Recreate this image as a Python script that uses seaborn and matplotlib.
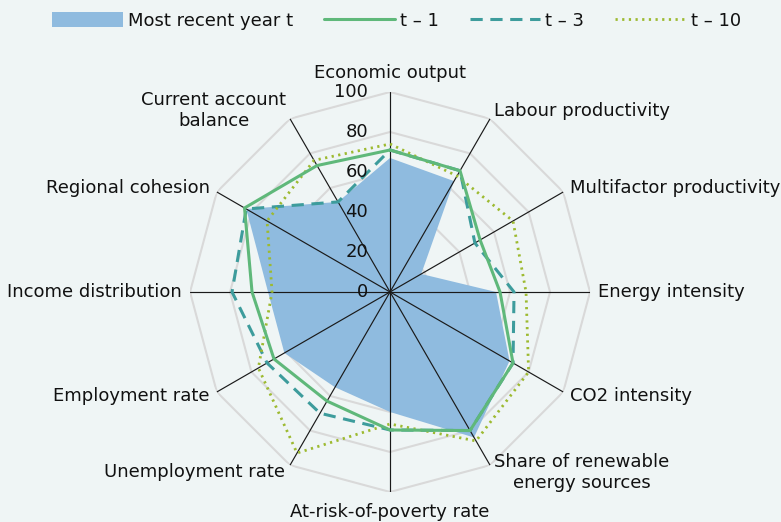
import numpy as np
import seaborn as sns
import matplotlib.pyplot as plt
from matplotlib.patches import Patch
from matplotlib.lines import Line2D

categories = ["Economic output", "Labour productivity", "Multifactor productivity",
              "Energy intensity", "CO2 intensity", "Share of renewable\nenergy sources",
              "At-risk-of-poverty rate", "Unemployment rate", "Employment rate",
              "Income distribution", "Regional cohesion", "Current account\nbalance"]
recent = [67, 64, 18, 53, 69, 84, 60, 55, 61, 61, 83, 52]
t_1 = [71, 70, 52, 55, 71, 80, 69, 63, 67, 69, 84, 73]
t_3 = [71, 70, 49, 62, 71, 80, 69, 70, 71, 79, 83, 52]
t_10 = [74, 67, 71, 68, 80, 86, 66, 93, 76, 59, 71, 76]
ring_levels = [20, 40, 60, 80, 100]
tick_labels = ["0", "20", "40", "60", "80", "100"]

bg = "#eff5f5"
c_fill = "#8fbbdf"
c_t1 = "#5fb87a"
c_t3 = "#3d9c9c"
c_t10 = "#9dba30"

sns.set_theme(style="white", rc={"figure.facecolor": bg, "savefig.facecolor": bg})
plt.rcParams['font.family'] = ['DejaVu Sans']
plt.rcParams['text.color'] = '#111111'

n = len(categories)
theta = np.linspace(0, 2 * np.pi, n, endpoint=False)
theta_c = np.append(theta, 2 * np.pi)


def close(v):
    return np.append(v, v[0])


fig = plt.figure(figsize=(7.81, 5.22), dpi=100)
ax = fig.add_axes([0.2433, 0.0575, 0.5122, 0.7663], projection='polar')
ax.set_theta_zero_location('N')
ax.set_theta_direction(-1)
ax.patch.set_alpha(0)
ax.spines['polar'].set_visible(False)
ax.grid(False)

# polygon rings
for lv in ring_levels:
    ax.plot(theta_c, [lv] * (n + 1), color="#d9d9d9", lw=1.5, zorder=1)

ax.fill(theta_c, close(recent), color=c_fill, lw=0, zorder=2)

# spokes
for t in theta:
    ax.plot([t, t], [0, 100], color="#1a1a1a", lw=0.85, zorder=3)

sns.lineplot(x=theta_c, y=close(t_1), sort=False, estimator=None, ax=ax,
             color=c_t1, lw=2.2, zorder=5)
sns.lineplot(x=theta_c, y=close(t_3), sort=False, estimator=None, ax=ax,
             color=c_t3, lw=2.2, zorder=4, linestyle=(0, (4, 2.5)))
sns.lineplot(x=theta_c, y=close(t_10), sort=False, estimator=None, ax=ax,
             color=c_t10, lw=2.0, zorder=4, linestyle=(0, (0.8, 1.6)))

ax.set_ylim(0, 100)
ax.set_xticks([])
ax.set_yticks([])
ax.set_xlabel("")
ax.set_ylabel("")

fs = 13
for i, lab in enumerate(tick_labels):
    ax.annotate(lab, xy=(0, i * 20), xytext=(-22, 0), textcoords='offset pixels',
                ha='right', va='center', fontsize=fs, zorder=6)

offsets = [(0, 19, 'center'), (4, 8, 'left'), (7, 4, 'left'), (8, 0, 'left'),
           (7, -4, 'left'), (4, -7, 'left'), (0, -20, 'center'), (-5, -7, 'right'),
           (-7, -4, 'right'), (-8, 0, 'right'), (-7, 4, 'right'), (-4, 8, 'right')]
for t, lab, (dx, dy, ha) in zip(theta, categories, offsets):
    ax.annotate(lab, xy=(t, 100), xytext=(dx, dy), textcoords='offset pixels',
                ha=ha, va='center', multialignment='center', fontsize=fs,
                annotation_clip=False)

handles = [Patch(facecolor=c_fill, edgecolor='none'),
           Line2D([], [], color=c_t1, lw=2.2),
           Line2D([], [], color=c_t3, lw=2.2, linestyle=(0, (4, 2.5))),
           Line2D([], [], color=c_t10, lw=2.0, linestyle=(0, (0.8, 1.6)))]
labels = ["Most recent year t", "t \u2013 1", "t \u2013 3", "t \u2013 10"]
fig.legend(handles, labels, loc='center', bbox_to_anchor=(0.508, 0.96), ncol=4,
           frameon=False, fontsize=fs, handlelength=3.9, handleheight=0.85,
           columnspacing=1.7, handletextpad=0.3)

fig.savefig("out.png", dpi=100)
